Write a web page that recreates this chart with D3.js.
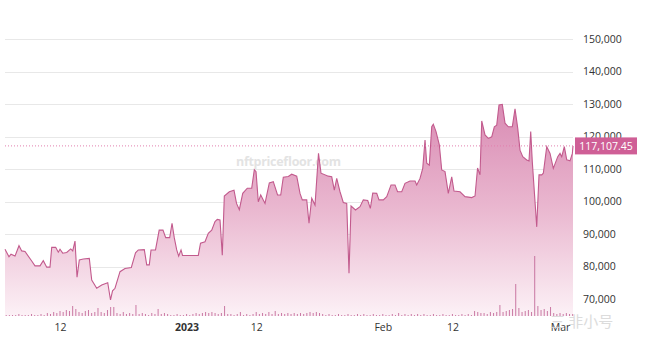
<!DOCTYPE html>
<html>
<head>
<meta charset="utf-8">
<script src="https://cdn.jsdelivr.net/npm/d3@7"></script>
<style>
  body { margin: 0; background: #fff; }
  svg { display: block; font-family: "Open Sans", "Liberation Sans", sans-serif; }
</style>
</head>
<body>
<div id="chart"></div>
<script>
// floor price, days counted from 2022-12-01 (UTC)
const days = [
  2.31, 2.94, 3.26, 3.89, 4.52, 4.95, 5.47, 6.53, 7.05, 7.84,
  8.36, 8.90, 9.42, 9.69, 10.32, 10.73, 11.00, 11.43, 12.06, 12.69,
  13.01, 13.37, 13.69, 14.05, 14.68, 15.63, 16.01, 16.80, 17.59, 18.54,
  18.98, 19.30, 19.69, 20.48, 21.27, 22.27, 22.93, 23.37, 24.32, 24.70,
  25.11, 25.38, 26.09, 26.67, 27.27, 27.70, 28.33, 28.70, 29.06, 29.44,
  29.75, 30.12, 30.36, 32.85, 33.20, 33.91, 34.43, 34.97, 35.49, 35.85,
  36.28, 36.64, 36.96, 37.75, 38.49, 38.89, 39.33, 39.87, 40.59, 41.29,
  41.70, 41.97, 42.33, 42.71, 43.39, 44.07, 44.70, 45.37, 45.87, 46.28,
  47.07, 47.61, 48.40, 48.92, 49.28, 49.98, 50.34, 50.77, 51.29, 51.84,
  52.24, 53.39, 53.93, 54.34, 54.72, 55.24, 55.76, 56.30, 56.66, 56.98,
  57.69, 58.40, 58.92, 59.62, 60.03, 60.41, 61.04, 61.40, 62.08, 62.62,
  63.30, 63.93, 64.33, 64.99, 65.51, 66.30, 67.09, 67.36, 67.88, 68.31,
  68.67, 68.94, 69.35, 69.73, 69.98, 70.41, 70.93, 71.31, 71.83, 72.35,
  72.89, 73.25, 74.20, 74.99, 76.05, 76.57, 76.97, 77.36, 77.63, 78.15,
  78.67, 79.21, 79.62, 80.00, 80.36, 80.88, 81.31, 81.83, 82.46, 82.89,
  83.32, 83.68, 84.11, 84.74, 85.10, 85.37, 85.62, 86.05, 86.32, 86.68,
  87.11, 87.36, 87.90, 88.42, 88.94, 89.64, 90.00, 90.27, 90.68, 91.06,
  91.58, 91.95, 92.05
];

const floorPrice = [
  85300, 83000, 83800, 83200, 86400, 84800, 84600, 81700, 80200, 80200,
  81800, 79800, 79800, 85900, 85900, 84400, 85300, 84100, 84300, 85400,
  84800, 87800, 76700, 82000, 82300, 82500, 75800, 73300, 74300, 75000,
  69700, 72500, 73300, 78400, 79400, 79700, 84200, 85100, 85200, 80500,
  80500, 85100, 85100, 91200, 91200, 88900, 88900, 93300, 88800, 85100,
  83200, 85100, 83400, 83400, 87200, 87600, 90200, 91200, 93800, 94500,
  94300, 83500, 101700, 103000, 103500, 99400, 97500, 102500, 104100, 104100,
  109800, 109200, 99900, 102000, 99400, 105700, 106100, 102000, 102000, 107500,
  107700, 108400, 107800, 102500, 100500, 100500, 93300, 101000, 98900, 114800,
  108700, 107800, 107600, 103500, 107100, 103000, 99700, 99400, 77900, 98600,
  97400, 98400, 100500, 100300, 97900, 102600, 102500, 100500, 100500, 101500,
  105100, 105100, 103000, 103000, 105600, 106300, 106300, 105100, 107100, 110200,
  118900, 111800, 111200, 123000, 123800, 121500, 117400, 109700, 109200, 102500,
  107600, 103200, 103000, 101500, 101200, 101700, 110300, 108200, 124800, 120500,
  119400, 119900, 123000, 123500, 129700, 129900, 124100, 123000, 123000, 128500,
  122500, 115800, 113800, 112800, 112500, 121500, 112200, 99900, 92200, 108200,
  108200, 108700, 116900, 114800, 110200, 113800, 114800, 113800, 116900, 112800,
  112500, 114800, 117107.45
];

// volume, one bar every half day starting at day 2.5
const volume = [
  1, 1, 1, 1, 2, 1, 1, 1, 2, 1,
  1, 2, 1, 3, 2, 4, 3, 5, 4, 6,
  5, 10, 7, 4, 3, 5, 6, 3, 4, 8,
  4, 3, 6, 9, 9, 3, 2, 4, 2, 3,
  2, 11, 2, 3, 2, 1, 3, 2, 7, 2,
  3, 2, 1, 1, 2, 1, 1, 2, 1, 2,
  3, 2, 3, 4, 3, 4, 3, 2, 3, 10,
  2, 2, 1, 2, 4, 1, 2, 1, 2, 4,
  2, 3, 2, 4, 2, 5, 2, 3, 2, 3,
  2, 3, 2, 3, 2, 3, 4, 3, 4, 3,
  2, 1, 2, 1, 1, 2, 1, 1, 2, 1,
  1, 2, 1, 2, 1, 1, 2, 1, 1, 2,
  1, 1, 2, 1, 3, 1, 2, 1, 2, 1,
  2, 1, 2, 1, 1, 2, 1, 1, 2, 1,
  1, 2, 1, 1, 2, 1, 2, 1, 5, 4,
  3, 3, 2, 4, 3, 4, 11, 4, 5, 6,
  7, 32, 8, 4, 5, 6, 4, 60, 10, 6,
  7, 5, 9, 3, 2, 3, 2, 3, 2, 2
];

const yTicks = [70000, 80000, 90000, 100000, 110000, 120000, 130000, 140000, 150000];
const xTickDays = [11, 31, 42, 62, 73, 90];
const xTickLabels = ['12', '2023', '12', 'Feb', '12', 'Mar'];
const lastPrice = 117107.45;

// --------------------------------------------------

const W = 645, H = 339;
const left = 5, right = 573, bottom = 316;
const t0 = Date.UTC(2022, 11, 1);
const toDate = d => new Date(t0 + d * 864e5);

const x = d3.scaleTime()
  .domain([toDate(2.31), toDate(92.05)])
  .range([left, right]);

const y = d3.scaleLinear()
  .domain([70000, 150000])
  .range([299, 39]);

const yVol = d3.scaleLinear()
  .domain([0, 60])
  .range([bottom, bottom - 60]);

const series = days.map((d, i) => ({ date: toDate(d), value: floorPrice[i] }));

const svg = d3.select('#chart').append('svg')
  .attr('width', W)
  .attr('height', H);

const grad = svg.append('defs').append('linearGradient')
  .attr('id', 'fill')
  .attr('gradientUnits', 'userSpaceOnUse')
  .attr('x1', 0).attr('x2', 0)
  .attr('y1', y(130000)).attr('y2', bottom);
grad.append('stop').attr('offset', 0).attr('stop-color', '#d98bb3');
grad.append('stop').attr('offset', 0.5).attr('stop-color', '#eab8d0');
grad.append('stop').attr('offset', 1).attr('stop-color', '#fcf1f6');

// grid
svg.append('g')
  .selectAll('line')
  .data(yTicks)
  .join('line')
  .attr('x1', left)
  .attr('x2', right)
  .attr('y1', d => Math.round(y(d)) + 0.5)
  .attr('y2', d => Math.round(y(d)) + 0.5)
  .attr('stroke', '#e8e8e8');

// watermark
svg.append('text')
  .attr('x', 236)
  .attr('y', 166)
  .attr('textLength', 105)
  .attr('font-size', 12.5)
  .attr('font-weight', 'bold')
  .attr('fill', '#e3e3e3')
  .text('nftpricefloor.com');

// area + line
svg.append('path')
  .datum(series)
  .attr('fill', 'url(#fill)')
  .attr('d', d3.area()
    .x(d => x(d.date))
    .y0(bottom)
    .y1(d => y(d.value)));

svg.append('path')
  .datum(series)
  .attr('fill', 'none')
  .attr('stroke', '#c25a8d')
  .attr('stroke-width', 1.1)
  .attr('d', d3.line()
    .x(d => x(d.date))
    .y(d => y(d.value)));

// volume bars
svg.append('g')
  .selectAll('rect')
  .data(volume)
  .join('rect')
  .attr('x', (d, i) => x(toDate(2.5 + i / 2)) - 0.5)
  .attr('width', 1)
  .attr('y', d => yVol(d))
  .attr('height', d => bottom - yVol(d))
  .attr('fill', '#b9538a')
  .attr('opacity', 0.75);

// last price line and label
svg.append('line')
  .attr('x1', left)
  .attr('x2', right)
  .attr('y1', y(lastPrice))
  .attr('y2', y(lastPrice))
  .attr('stroke', '#e27fae')
  .attr('stroke-width', 1)
  .attr('stroke-dasharray', '1,2');

// y axis
const yAxis = svg.append('g')
  .attr('transform', `translate(${right},0)`)
  .call(d3.axisRight(y)
    .tickValues(yTicks)
    .tickFormat(d3.format(','))
    .tickSize(0)
    .tickPadding(10));
yAxis.select('.domain').remove();
yAxis.selectAll('text')
  .attr('font-size', 10.5)
  .attr('fill', '#333')
  .attr('font-family', '"Open Sans", sans-serif');

const label = svg.append('g')
  .attr('transform', `translate(575,${y(lastPrice)})`);
label.append('rect')
  .attr('x', 0)
  .attr('y', -8.5)
  .attr('width', 62)
  .attr('height', 17)
  .attr('fill', '#cf5f96');
label.append('text')
  .attr('x', 31)
  .attr('y', 4)
  .attr('text-anchor', 'middle')
  .attr('font-size', 10.5)
  .attr('fill', '#fff')
  .text(d3.format(',.2f')(lastPrice));

// x axis
const xAxis = svg.append('g')
  .attr('transform', `translate(0,${bottom})`)
  .call(d3.axisBottom(x)
    .tickValues(xTickDays.map(toDate))
    .tickFormat((d, i) => xTickLabels[i])
    .tickSize(0)
    .tickPadding(8));
xAxis.select('.domain').remove();
xAxis.selectAll('text')
  .attr('font-size', 10.5)
  .attr('fill', '#333')
  .attr('font-family', '"Open Sans", sans-serif')
  .attr('font-weight', (d, i) => xTickLabels[i] === '2023' ? 'bold' : 'normal');

// corner watermark
svg.append('text')
  .attr('x', 550)
  .attr('y', 327)
  .attr('font-size', 15)
  .attr('font-family', '"Noto Sans CJK SC", sans-serif')
  .attr('fill', '#d6d6d6')
  .attr('opacity', 0.85)
  .text('三 非小号');
</script>
</body>
</html>
